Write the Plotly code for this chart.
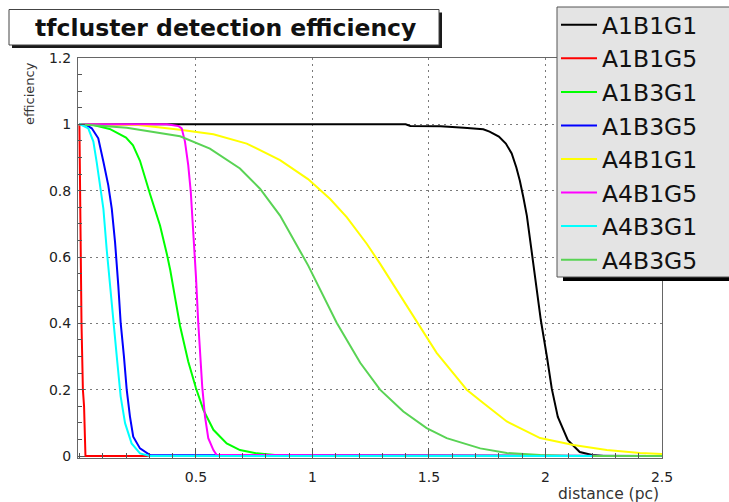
import plotly.graph_objects as go

# Detection efficiency vs distance for each parameter set
a1b1g1_x = [0, 1.40, 1.42, 1.55, 1.65, 1.733, 1.76, 1.80, 1.83, 1.855, 1.875, 1.89, 1.905, 1.92, 1.942, 1.963, 1.98, 2.006, 2.027, 2.053, 2.096, 2.147, 2.20, 2.25, 2.5]
a1b1g1_y = [1.0, 1.0, 0.995, 0.994, 0.99, 0.985, 0.978, 0.963, 0.942, 0.912, 0.87, 0.83, 0.78, 0.725, 0.61, 0.503, 0.41, 0.30, 0.203, 0.118, 0.048, 0.012, 0.003, 0.0, 0.0]

a1b1g5_x = [0, 0.003, 0.005, 0.009, 0.015, 0.02, 0.026, 2.5]
a1b1g5_y = [1.0, 0.8, 0.6, 0.4, 0.2, 0.15, 0.0, 0.0]

a1b3g1_x = [0, 0.06, 0.13, 0.20, 0.23, 0.26, 0.303, 0.346, 0.375, 0.39, 0.41, 0.432, 0.467, 0.50, 0.532, 0.575, 0.632, 0.689, 0.761, 0.85, 2.5]
a1b3g1_y = [1.0, 0.998, 0.986, 0.96, 0.937, 0.89, 0.79, 0.695, 0.61, 0.56, 0.48, 0.392, 0.285, 0.205, 0.139, 0.079, 0.038, 0.018, 0.008, 0.002, 0.0]

a1b3g5_x = [0, 0.024, 0.053, 0.081, 0.103, 0.124, 0.139, 0.153, 0.167, 0.177, 0.191, 0.203, 0.217, 0.231, 0.26, 0.303, 2.5]
a1b3g5_y = [1.0, 1.0, 0.988, 0.958, 0.887, 0.816, 0.745, 0.645, 0.513, 0.402, 0.301, 0.2, 0.119, 0.058, 0.023, 0.003, 0.0]

a4b1g1_x = [0, 0.253, 0.432, 0.575, 0.718, 0.861, 0.981, 1.076, 1.147, 1.233, 1.29, 1.362, 1.448, 1.533, 1.633, 1.662, 1.733, 1.834, 1.977, 2.12, 2.263, 2.406, 2.5]
a4b1g1_y = [1.0, 0.998, 0.984, 0.97, 0.942, 0.892, 0.835, 0.775, 0.72, 0.64, 0.58, 0.50, 0.405, 0.311, 0.225, 0.2, 0.16, 0.104, 0.054, 0.033, 0.018, 0.009, 0.006]

a4b1g5_x = [0, 0.375, 0.424, 0.439, 0.453, 0.467, 0.478, 0.489, 0.5, 0.51, 0.518, 0.527, 0.539, 0.553, 0.575, 0.589, 2.5]
a4b1g5_y = [1.0, 1.0, 0.995, 0.988, 0.948, 0.877, 0.796, 0.675, 0.543, 0.402, 0.311, 0.21, 0.119, 0.054, 0.018, 0.003, 0.0]

a4b3g1_x = [0, 0.01, 0.038, 0.06, 0.074, 0.088, 0.103, 0.117, 0.131, 0.146, 0.163, 0.177, 0.196, 0.224, 0.26, 0.303, 2.2]
a4b3g1_y = [1.0, 0.998, 0.988, 0.948, 0.887, 0.816, 0.745, 0.624, 0.513, 0.402, 0.281, 0.18, 0.099, 0.038, 0.008, 0.0, 0.0]

a4b3g5_x = [0, 0.203, 0.432, 0.56, 0.689, 0.775, 0.861, 0.96, 0.982, 1.104, 1.205, 1.29, 1.39, 1.49, 1.576, 1.72, 1.834, 1.977, 2.1, 2.5]
a4b3g5_y = [1.0, 0.99, 0.964, 0.927, 0.867, 0.806, 0.725, 0.60, 0.574, 0.402, 0.281, 0.2, 0.134, 0.084, 0.054, 0.023, 0.009, 0.003, 0.0, 0.0]

# (label, x, y, colour, legend position); drawn in list order
series = [
    ("A1B1G1", a1b1g1_x, a1b1g1_y, "#000000", 1),
    ("A1B1G5", a1b1g5_x, a1b1g5_y, "#ff0000", 2),
    ("A1B3G1", a1b3g1_x, a1b3g1_y, "#00ff00", 3),
    ("A1B3G5", a1b3g5_x, a1b3g5_y, "#0000ff", 4),
    ("A4B1G1", a4b1g1_x, a4b1g1_y, "#ffff00", 5),
    ("A4B1G5", a4b1g5_x, a4b1g5_y, "#ff00ff", 6),
    ("A4B3G5", a4b3g5_x, a4b3g5_y, "#59d354", 8),
    ("A4B3G1", a4b3g1_x, a4b3g1_y, "#00ffff", 7),
]

x_ticks = [0.5, 1, 1.5, 2, 2.5]
x_ticklabels = ["0.5", "1", "1.5", "2", "2.5"]
y_ticks = [0, 0.2, 0.4, 0.6, 0.8, 1.0, 1.2]
y_ticklabels = ["0", "0.2", "0.4", "0.6", "0.8", "1", "1.2"]

W, H = 729, 502
L, R, T, B = 78, 67, 58, 44
PW, PH = W - L - R, H - T - B


def px_x(px):
    return (px - L) / PW


def px_y(py):
    return (H - B - py) / PH


FONT = "DejaVu Sans"

fig = go.Figure()
for name, xs, ys, color, rank in series:
    fig.add_trace(go.Scatter(x=xs, y=ys, mode="lines", name=name, legendrank=rank,
                             line=dict(color=color, width=2)))

axis_common = dict(
    showline=True, linecolor="#666666", linewidth=1, mirror=True,
    ticks="inside", tickcolor="#555555",
    showgrid=True, gridcolor="#7a7a7a", gridwidth=1, griddash="2px,4px",
    zeroline=False,
    tickfont=dict(family=FONT, size=14, color="#222222"),
)

fig.update_xaxes(range=[-0.006, 2.5], tickmode="array", tickvals=x_ticks, ticktext=x_ticklabels,
                 ticklen=10, ticklabelstandoff=6,
                 minor=dict(tick0=0, dtick=0.1, ticks="inside", ticklen=5, tickcolor="#555555", showgrid=False),
                 **axis_common)
fig.update_yaxes(range=[-0.006, 1.2], tickmode="array", tickvals=y_ticks, ticktext=y_ticklabels,
                 ticklen=7, ticklabelstandoff=3,
                 minor=dict(tick0=0, dtick=0.05, ticks="inside", ticklen=4, tickcolor="#555555", showgrid=False),
                 **axis_common)

shapes = [
    # title box with drop shadow
    dict(type="rect", xref="paper", yref="paper", x0=px_x(12), x1=px_x(442), y0=px_y(48), y1=px_y(12.5),
         fillcolor="#1a1a1a", line=dict(width=0)),
    dict(type="rect", xref="paper", yref="paper", x0=px_x(9), x1=px_x(439), y0=px_y(45), y1=px_y(9.5),
         fillcolor="white", line=dict(color="#444444", width=1)),
    # legend panel with drop shadow
    dict(type="rect", xref="paper", yref="paper", x0=px_x(563), x1=px_x(745), y0=px_y(281), y1=px_y(276),
         fillcolor="#000000", line=dict(width=0)),
    dict(type="rect", xref="paper", yref="paper", x0=px_x(557), x1=px_x(745), y0=px_y(277), y1=px_y(7),
         fillcolor="#e4e4e4", line=dict(color="#555555", width=1)),
]

annotations = [
    dict(text="tfcluster detection efficiency", xref="paper", yref="paper",
         x=px_x(225), y=px_y(27.5), xanchor="center", yanchor="middle", showarrow=False,
         font=dict(family=FONT, size=23.5, color="#111111", weight="bold")),
    dict(text="efficiency", xref="paper", yref="paper", x=px_x(30), y=px_y(94),
         xanchor="center", yanchor="middle", textangle=-90, showarrow=False,
         font=dict(family=FONT, size=13, color="#333333")),
    dict(text="distance (pc)", xref="paper", yref="paper", x=px_x(661), y=px_y(494),
         xanchor="right", yanchor="middle", showarrow=False,
         font=dict(family=FONT, size=15.5, color="#333333")),
]

fig.update_layout(
    width=W, height=H,
    margin=dict(l=L, r=R, t=T, b=B, pad=0, autoexpand=False),
    paper_bgcolor="white", plot_bgcolor="white",
    shapes=shapes, annotations=annotations,
    showlegend=True,
    legend=dict(xref="container", yref="container", x=556 / W, y=1.0 - 3 / H, xanchor="left", yanchor="top",
                bgcolor="rgba(0,0,0,0)", borderwidth=0, maxheight=420,
                font=dict(family=FONT, size=23.5, color="#111111"),
                itemwidth=36, tracegroupgap=0),
)

fig.write_html("out.html")
